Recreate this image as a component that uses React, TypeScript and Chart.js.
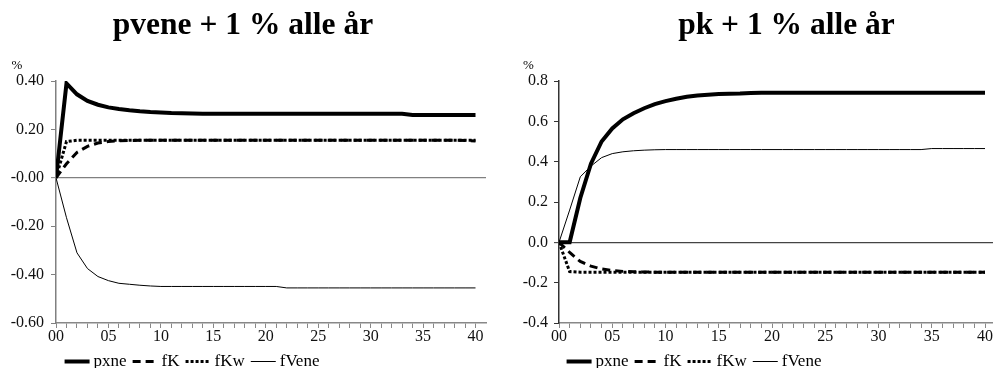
import React, { useEffect, useRef } from 'react';
import { Chart, registerables } from 'chart.js';

Chart.register(...registerables);

// ---------- data ----------
const YEARS = [0, 1, 2, 3, 4, 5, 6, 7, 8, 9, 10, 11, 12, 13, 14, 15, 16, 17, 18, 19, 20,
  21, 22, 23, 24, 25, 26, 27, 28, 29, 30, 31, 32, 33, 34, 35, 36, 37, 38, 39, 40];

const X_TICK_LABELS = ['00', '05', '10', '15', '20', '25', '30', '35', '40'];

const SERIES_NAMES = ['pxne', 'fK', 'fKw', 'fVene'];

// Left panel: pvene + 1 % alle år
const PV_TITLE = 'pvene + 1 % alle år';
const PV_Y_TICKS = ['-0.60', '-0.40', '-0.20', '-0.00', '0.20', '0.40'];
const PV_PXNE = [0, 0.39, 0.345, 0.318, 0.302, 0.291, 0.284, 0.279, 0.275, 0.272, 0.27, 0.268, 0.267, 0.266,
  0.265, 0.265, 0.265, 0.265, 0.265, 0.265, 0.265, 0.265, 0.265, 0.265, 0.265, 0.265, 0.265, 0.265,
  0.265, 0.265, 0.265, 0.265, 0.265, 0.265, 0.26, 0.26, 0.26, 0.26, 0.26, 0.26, 0.26];
const PV_FK = [0, 0.058, 0.105, 0.13, 0.144, 0.15, 0.153, 0.154, 0.155, 0.155, 0.155, 0.155, 0.155, 0.155,
  0.155, 0.155, 0.155, 0.155, 0.155, 0.155, 0.155, 0.155, 0.155, 0.155, 0.155, 0.155, 0.155, 0.155,
  0.155, 0.155, 0.155, 0.155, 0.155, 0.155, 0.155, 0.155, 0.155, 0.155, 0.155, 0.154, 0.152];
const PV_FKW = [0, 0.15, 0.155, 0.155, 0.155, 0.155, 0.155, 0.155, 0.155, 0.155, 0.155, 0.155, 0.155, 0.155,
  0.155, 0.155, 0.155, 0.155, 0.155, 0.155, 0.155, 0.155, 0.155, 0.155, 0.155, 0.155, 0.155, 0.155,
  0.155, 0.155, 0.155, 0.155, 0.155, 0.155, 0.155, 0.155, 0.155, 0.155, 0.155, 0.155, 0.155];
const PV_FVENE = [0, -0.165, -0.31, -0.375, -0.408, -0.425, -0.436, -0.44, -0.444, -0.447, -0.449, -0.449,
  -0.449, -0.449, -0.449, -0.449, -0.449, -0.449, -0.449, -0.449, -0.449, -0.449, -0.455, -0.455,
  -0.455, -0.455, -0.455, -0.455, -0.455, -0.455, -0.455, -0.455, -0.455, -0.455, -0.455, -0.455,
  -0.455, -0.455, -0.455, -0.455, -0.455];

// Right panel: pk + 1 % alle år
const PK_TITLE = 'pk + 1 % alle år';
const PK_Y_TICKS = ['-0.4', '-0.2', '0.0', '0.2', '0.4', '0.6', '0.8'];
const PK_PXNE = [0, 0, 0.22, 0.39, 0.5, 0.565, 0.61, 0.64, 0.665, 0.685, 0.7, 0.712, 0.722, 0.728, 0.732,
  0.735, 0.737, 0.738, 0.741, 0.742, 0.742, 0.742, 0.742, 0.742, 0.742, 0.742, 0.742, 0.742, 0.742,
  0.742, 0.742, 0.742, 0.742, 0.742, 0.742, 0.742, 0.742, 0.742, 0.742, 0.742, 0.742];
const PK_FK = [0, -0.05, -0.095, -0.118, -0.132, -0.14, -0.144, -0.146, -0.147, -0.148, -0.148, -0.148,
  -0.148, -0.148, -0.148, -0.148, -0.148, -0.148, -0.148, -0.148, -0.148, -0.148, -0.148, -0.148,
  -0.148, -0.148, -0.148, -0.148, -0.148, -0.148, -0.148, -0.148, -0.148, -0.148, -0.148, -0.148,
  -0.148, -0.148, -0.148, -0.148, -0.148];
const PK_FKW = [0, -0.145, -0.148, -0.148, -0.148, -0.148, -0.148, -0.148, -0.148, -0.148, -0.148, -0.148,
  -0.148, -0.148, -0.148, -0.148, -0.148, -0.148, -0.148, -0.148, -0.148, -0.148, -0.148, -0.148,
  -0.148, -0.148, -0.148, -0.148, -0.148, -0.148, -0.148, -0.148, -0.148, -0.148, -0.148, -0.148,
  -0.148, -0.148, -0.148, -0.148, -0.148];
const PK_FVENE = [0, 0.16, 0.325, 0.378, 0.42, 0.44, 0.449, 0.454, 0.457, 0.459, 0.46, 0.46, 0.46, 0.46,
  0.46, 0.46, 0.46, 0.46, 0.46, 0.46, 0.46, 0.46, 0.46, 0.46, 0.46, 0.46, 0.46, 0.46, 0.46, 0.46, 0.46,
  0.46, 0.46, 0.46, 0.46, 0.465, 0.465, 0.465, 0.465, 0.465, 0.465];

// ---------- styling ----------
const SERIF = '"Liberation Serif", "Times New Roman", serif';
const STYLES = [
  { borderWidth: 4, borderDash: [] as number[] },
  { borderWidth: 3, borderDash: [8, 5] },
  { borderWidth: 3, borderDash: [3, 2] },
  { borderWidth: 1, borderDash: [] as number[] },
];

const annotPlugin = {
  id: 'annot',
  afterDraw(chart: any, _args: any, opts: any) {
    const ctx: CanvasRenderingContext2D = chart.ctx;
    ctx.save();
    ctx.fillStyle = '#000';
    // title
    ctx.font = `bold 31.5px ${SERIF}`;
    ctx.textAlign = 'center';
    ctx.textBaseline = 'alphabetic';
    ctx.fillText(opts.title, opts.titleX, 34);
    // unit
    ctx.font = `13px ${SERIF}`;
    ctx.fillText('%', opts.unitX, 68.5);
    // legend
    ctx.font = `17px ${SERIF}`;
    ctx.textAlign = 'left';
    ctx.textBaseline = 'middle';
    const sample = 25, gapA = 4, gapB = 6;
    const items = chart.data.datasets.map((ds: any) => ({ ds, w: ctx.measureText(ds.label).width }));
    const total = items.reduce((s: number, it: any) => s + sample + gapA + it.w, 0) + gapB * (items.length - 1);
    let x = opts.legendX - total / 2;
    const y = 361.5;
    for (const it of items) {
      ctx.beginPath();
      ctx.setLineDash(it.ds.borderDash || []);
      ctx.lineWidth = it.ds.borderWidth;
      ctx.strokeStyle = '#000';
      ctx.moveTo(x, y);
      ctx.lineTo(x + sample, y);
      ctx.stroke();
      ctx.setLineDash([]);
      x += sample + gapA;
      ctx.fillText(it.ds.label, x, y + 0.5);
      x += it.w + gapB;
    }
    ctx.restore();
  },
};

interface PanelDef {
  title: string;
  titleX: number;
  unitX: number;
  legendX: number;
  series: number[][];
  yTicks: string[];
  yMin: number;
  yMax: number;
  yStep: number;
  yWidth: number;
  padRight: number;
  xMax: number;
  yAxisColor: string;
  zeroColor: string;
  tickPad: number;
}

function makeConfig(p: PanelDef): any {
  const isZero = (v: number) => Math.abs(v) < 1e-9;
  return {
    type: 'line',
    data: {
      labels: YEARS,
      datasets: p.series.map((vals, i) => ({
        label: SERIES_NAMES[i],
        data: vals,
        borderColor: '#000',
        backgroundColor: '#000',
        borderWidth: STYLES[i].borderWidth,
        borderDash: STYLES[i].borderDash,
        pointRadius: 0,
        tension: 0,
        fill: false,
      })),
    },
    options: {
      responsive: false,
      animation: false,
      devicePixelRatio: 1,
      layout: { padding: { left: 0, right: p.padRight, top: 81, bottom: 0 } },
      plugins: {
        legend: { display: false },
        title: { display: false },
        tooltip: { enabled: false },
        annot: { title: p.title, titleX: p.titleX, unitX: p.unitX, legendX: p.legendX },
      },
      scales: {
        x: {
          type: 'linear',
          min: 0,
          max: p.xMax,
          afterFit: (s: any) => { s.height = 45; },
          afterBuildTicks: (s: any) => { s.ticks = YEARS.map((v) => ({ value: v })); },
          ticks: {
            stepSize: 1,
            autoSkip: false,
            maxRotation: 0,
            padding: 1,
            color: '#111',
            font: { family: SERIF, size: 16, lineHeight: 1 },
            callback: (v: number) => (Math.abs(v % 5) < 1e-9 ? X_TICK_LABELS[Math.round(v / 5)] : ''),
          },
          grid: {
            display: true,
            drawOnChartArea: false,
            drawTicks: true,
            tickLength: 5,
            color: '#888',
            tickColor: '#888',
            tickWidth: 1,
          },
          border: { display: true, color: '#888', width: 1.5 },
        },
        y: {
          type: 'linear',
          min: p.yMin,
          max: p.yMax,
          afterFit: (s: any) => { s.width = p.yWidth; },
          ticks: {
            stepSize: p.yStep,
            padding: p.tickPad,
            color: '#111',
            font: { family: SERIF, size: 16 },
            callback: (_v: number, i: number) => p.yTicks[i],
          },
          grid: {
            display: true,
            drawOnChartArea: true,
            drawTicks: true,
            tickLength: 5,
            color: (c: any) => (c.tick && isZero(c.tick.value) ? p.zeroColor : 'rgba(0,0,0,0)'),
            lineWidth: (c: any) => (c.tick && isZero(c.tick.value) ? 1.3 : 1),
            tickColor: p.yAxisColor,
            tickWidth: 1,
          },
          border: { display: true, color: p.yAxisColor, width: 1.5 },
        },
      },
    },
    plugins: [annotPlugin],
  };
}

const LEFT: PanelDef = {
  title: PV_TITLE,
  titleX: 243,
  unitX: 17,
  legendX: 192,
  series: [PV_PXNE, PV_FK, PV_FKW, PV_FVENE],
  yTicks: PV_Y_TICKS,
  yMin: -0.6,
  yMax: 0.4,
  yStep: 0.2,
  yWidth: 56,
  padRight: 11,
  xMax: 41,
  yAxisColor: '#808080',
  zeroColor: '#808080',
  tickPad: 7,
};

const RIGHT: PanelDef = {
  title: PK_TITLE,
  titleX: 289.5,
  unitX: 31.5,
  legendX: 197,
  series: [PK_PXNE, PK_FK, PK_FKW, PK_FVENE],
  yTicks: PK_Y_TICKS,
  yMin: -0.4,
  yMax: 0.8,
  yStep: 0.2,
  yWidth: 62,
  padRight: 0,
  xMax: 40.75,
  yAxisColor: '#333',
  zeroColor: '#444',
  tickPad: 6,
};

function Panel({ def, left }: { def: PanelDef; left: number }) {
  const ref = useRef<HTMLCanvasElement | null>(null);
  useEffect(() => {
    if (!ref.current) return;
    const chart = new Chart(ref.current, makeConfig(def));
    return () => chart.destroy();
  }, [def]);
  return (
    <canvas
      ref={ref}
      width={497}
      height={368}
      style={{ position: 'absolute', left, top: 0, width: 497, height: 368 }}
    />
  );
}

export default function App() {
  return (
    <div style={{ position: 'absolute', left: 0, top: 0, width: 994, height: 368, background: '#fff', overflow: 'hidden' }}>
      <Panel def={LEFT} left={0} />
      <Panel def={RIGHT} left={497} />
    </div>
  );
}
